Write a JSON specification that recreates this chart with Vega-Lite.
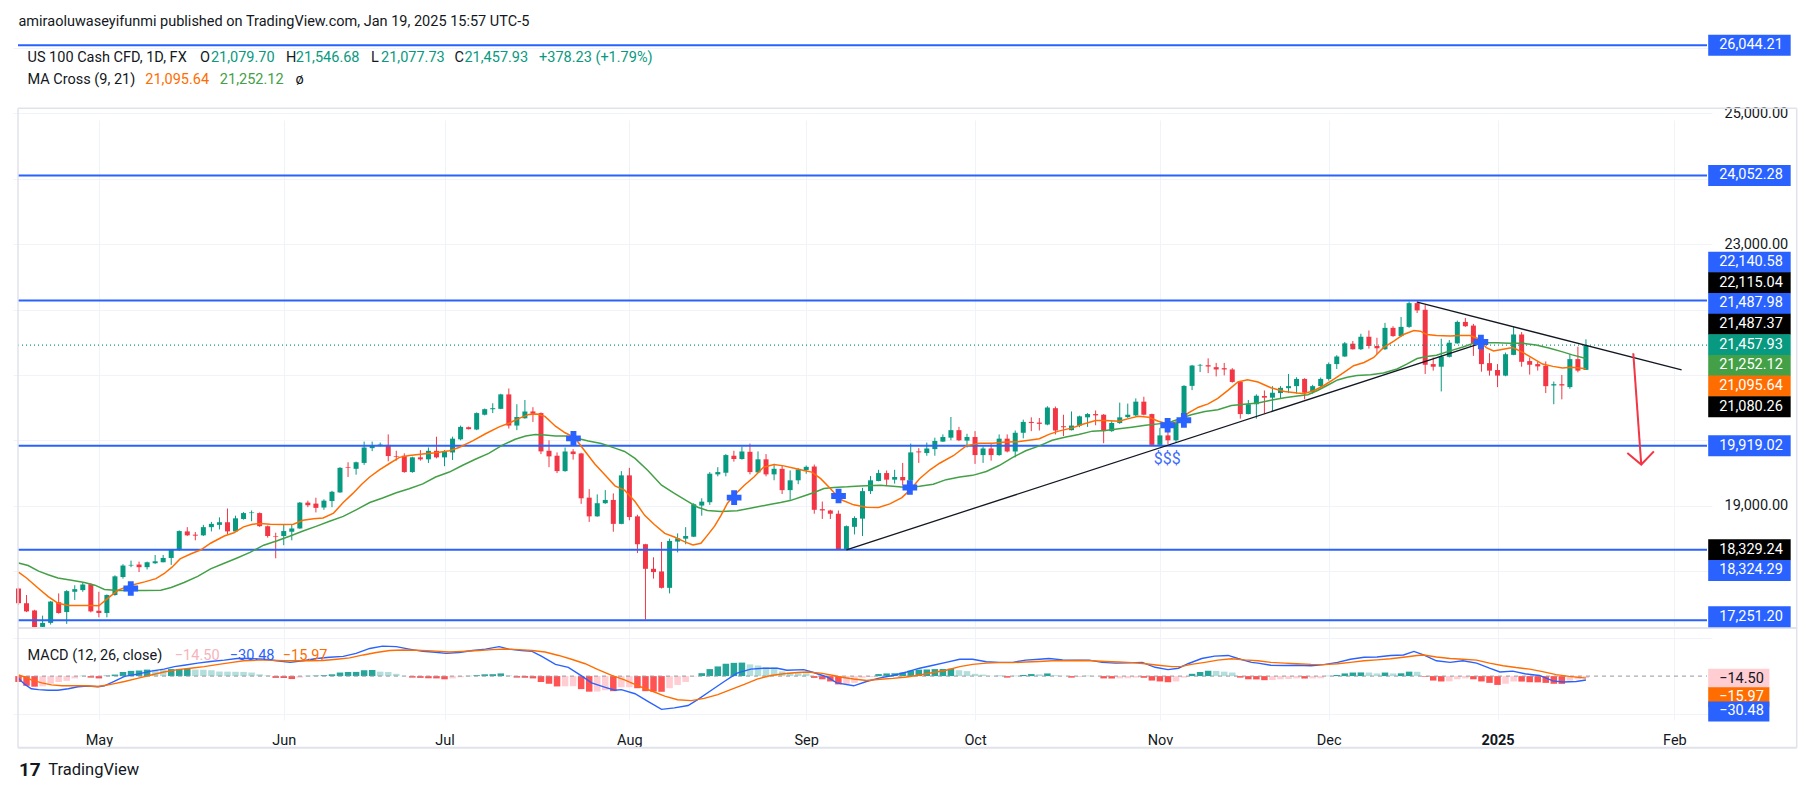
{
"$schema":"https://vega.github.io/schema/vega-lite/v6.json",
"width":1699,"height":687,
"autosize":{"type":"none"},
"padding":{"left":13,"top":33,"right":103,"bottom":82},
"background":"#ffffff",
"config":{"view":{"stroke":null},"text":{"font":"Roboto"}},
"datasets":{
"k":[
{"i":-10,"o":17737,"h":17747,"l":17487,"c":17512},{"i":-9,"o":17512,"h":17637,"l":17377,"c":17387},{"i":-8,"o":17401,"h":17412,"l":17134,"c":17140},{"i":-7,"o":17150,"h":17322,"l":17134,"c":17211},{"i":-6,"o":17211,"h":17547,"l":17186,"c":17537},{"i":-5,"o":17527,"h":17662,"l":17352,"c":17362},{"i":-4,"o":17377,"h":17712,"l":17196,"c":17697},{"i":-3,"o":17687,"h":17787,"l":17562,"c":17727},{"i":-2,"o":17712,"h":17828,"l":17687,"c":17798},{"i":-1,"o":17803,"h":17818,"l":17372,"c":17387},
{"i":0,"o":17397,"h":17687,"l":17296,"c":17362},{"i":1,"o":17362,"h":17647,"l":17296,"c":17637},{"i":2,"o":17637,"h":17938,"l":17627,"c":17923},{"i":3,"o":17913,"h":18108,"l":17888,"c":18088},{"i":4,"o":18088,"h":18163,"l":18063,"c":18098},{"i":5,"o":18103,"h":18148,"l":17988,"c":18063},{"i":6,"o":18063,"h":18148,"l":18028,"c":18138},{"i":7,"o":18123,"h":18249,"l":18113,"c":18153},{"i":8,"o":18138,"h":18249,"l":18138,"c":18204},{"i":9,"o":18204,"h":18339,"l":18098,"c":18329},
{"i":10,"o":18329,"h":18625,"l":18314,"c":18615},{"i":11,"o":18610,"h":18675,"l":18540,"c":18550},{"i":12,"o":18560,"h":18600,"l":18474,"c":18545},{"i":13,"o":18550,"h":18710,"l":18540,"c":18675},{"i":14,"o":18675,"h":18755,"l":18610,"c":18725},{"i":15,"o":18710,"h":18825,"l":18640,"c":18750},{"i":16,"o":18750,"h":18960,"l":18565,"c":18610},{"i":17,"o":18610,"h":18850,"l":18600,"c":18810},{"i":18,"o":18800,"h":18905,"l":18790,"c":18890},{"i":19,"o":18890,"h":18930,"l":18765,"c":18900},
{"i":20,"o":18890,"h":18900,"l":18680,"c":18690},{"i":21,"o":18690,"h":18700,"l":18515,"c":18540},{"i":22,"o":18540,"h":18590,"l":18199,"c":18530},{"i":23,"o":18540,"h":18715,"l":18399,"c":18615},{"i":24,"o":18605,"h":18715,"l":18474,"c":18655},{"i":25,"o":18655,"h":19060,"l":18650,"c":19050},{"i":26,"o":19050,"h":19080,"l":18980,"c":19010},{"i":27,"o":19035,"h":19125,"l":18900,"c":18970},{"i":28,"o":18975,"h":19100,"l":18940,"c":19080},{"i":29,"o":19075,"h":19231,"l":18980,"c":19216},
{"i":30,"o":19206,"h":19592,"l":19201,"c":19582},{"i":31,"o":19592,"h":19667,"l":19442,"c":19582},{"i":32,"o":19567,"h":19677,"l":19477,"c":19667},{"i":33,"o":19657,"h":19983,"l":19627,"c":19893},{"i":34,"o":19883,"h":19983,"l":19838,"c":19928},{"i":35,"o":19928,"h":19968,"l":19908,"c":19938},{"i":36,"o":19933,"h":20093,"l":19682,"c":19762},{"i":37,"o":19762,"h":19843,"l":19692,"c":19752},{"i":38,"o":19767,"h":19803,"l":19507,"c":19517},{"i":39,"o":19517,"h":19752,"l":19507,"c":19742},
{"i":40,"o":19742,"h":19853,"l":19692,"c":19712},{"i":41,"o":19712,"h":19893,"l":19657,"c":19842},{"i":42,"o":19842,"h":20058,"l":19727,"c":19742},{"i":43,"o":19742,"h":19853,"l":19607,"c":19832},{"i":44,"o":19817,"h":20058,"l":19702,"c":20028},{"i":45,"o":20018,"h":20228,"l":20003,"c":20208},{"i":46,"o":20203,"h":20213,"l":20168,"c":20173},{"i":47,"o":20168,"h":20429,"l":20158,"c":20419},{"i":48,"o":20394,"h":20489,"l":20384,"c":20479},{"i":49,"o":20478,"h":20569,"l":20419,"c":20494},
{"i":50,"o":20484,"h":20715,"l":20479,"c":20705},{"i":51,"o":20705,"h":20795,"l":20183,"c":20228},{"i":52,"o":20228,"h":20554,"l":20158,"c":20359},{"i":53,"o":20339,"h":20619,"l":20334,"c":20444},{"i":54,"o":20444,"h":20509,"l":20284,"c":20409},{"i":55,"o":20419,"h":20429,"l":19792,"c":19833},{"i":56,"o":19843,"h":20003,"l":19592,"c":19757},{"i":57,"o":19767,"h":19818,"l":19502,"c":19532},{"i":58,"o":19532,"h":19893,"l":19522,"c":19832},{"i":59,"o":19832,"h":19868,"l":19707,"c":19792},
{"i":60,"o":19802,"h":19812,"l":19031,"c":19116},{"i":61,"o":19126,"h":19256,"l":18755,"c":18840},{"i":62,"o":18840,"h":19176,"l":18835,"c":19041},{"i":63,"o":19041,"h":19241,"l":19031,"c":19091},{"i":64,"o":19091,"h":19191,"l":18605,"c":18725},{"i":65,"o":18725,"h":19532,"l":18720,"c":19467},{"i":66,"o":19467,"h":19582,"l":18780,"c":18830},{"i":67,"o":18840,"h":18865,"l":18279,"c":18414},{"i":68,"o":18414,"h":18420,"l":17261,"c":18038},{"i":69,"o":18038,"h":18214,"l":17888,"c":17988},
{"i":70,"o":17998,"h":18449,"l":17737,"c":17747},{"i":71,"o":17747,"h":18499,"l":17662,"c":18464},{"i":72,"o":18454,"h":18579,"l":18289,"c":18504},{"i":73,"o":18499,"h":18675,"l":18414,"c":18539},{"i":74,"o":18529,"h":19041,"l":18524,"c":19025},{"i":75,"o":19005,"h":19116,"l":18850,"c":19065},{"i":76,"o":19056,"h":19517,"l":19016,"c":19492},{"i":77,"o":19482,"h":19592,"l":19452,"c":19517},{"i":78,"o":19507,"h":19792,"l":19452,"c":19777},{"i":79,"o":19767,"h":19843,"l":19677,"c":19717},
{"i":80,"o":19717,"h":19903,"l":19707,"c":19832},{"i":81,"o":19827,"h":19953,"l":19482,"c":19517},{"i":82,"o":19512,"h":19833,"l":19507,"c":19712},{"i":83,"o":19712,"h":19792,"l":19452,"c":19482},{"i":84,"o":19482,"h":19642,"l":19392,"c":19567},{"i":85,"o":19567,"h":19617,"l":19181,"c":19241},{"i":86,"o":19241,"h":19542,"l":19091,"c":19391},{"i":87,"o":19391,"h":19577,"l":19332,"c":19557},{"i":88,"o":19547,"h":19617,"l":19492,"c":19597},{"i":89,"o":19602,"h":19632,"l":18880,"c":18940},
{"i":90,"o":18950,"h":19066,"l":18800,"c":18930},{"i":91,"o":18930,"h":18940,"l":18800,"c":18880},{"i":92,"o":18880,"h":18930,"l":18329,"c":18335},{"i":93,"o":18329,"h":18700,"l":18325,"c":18690},{"i":94,"o":18680,"h":18840,"l":18564,"c":18815},{"i":95,"o":18805,"h":19276,"l":18539,"c":19226},{"i":96,"o":19226,"h":19457,"l":19181,"c":19391},{"i":97,"o":19381,"h":19552,"l":19376,"c":19502},{"i":98,"o":19502,"h":19542,"l":19301,"c":19401},{"i":99,"o":19401,"h":19552,"l":19341,"c":19442},
{"i":100,"o":19442,"h":19657,"l":19316,"c":19391},{"i":101,"o":19391,"h":19953,"l":19181,"c":19818},{"i":102,"o":19833,"h":19883,"l":19657,"c":19818},{"i":103,"o":19808,"h":19968,"l":19767,"c":19878},{"i":104,"o":19868,"h":20043,"l":19767,"c":19993},{"i":105,"o":19983,"h":20093,"l":19978,"c":20053},{"i":106,"o":20043,"h":20359,"l":20003,"c":20158},{"i":107,"o":20158,"h":20208,"l":19993,"c":20003},{"i":108,"o":19998,"h":20103,"l":19893,"c":20053},{"i":109,"o":20053,"h":20143,"l":19642,"c":19777},
{"i":110,"o":19777,"h":19908,"l":19657,"c":19878},{"i":111,"o":19878,"h":19943,"l":19692,"c":19777},{"i":112,"o":19777,"h":20093,"l":19767,"c":20028},{"i":113,"o":20028,"h":20093,"l":19818,"c":19832},{"i":114,"o":19832,"h":20153,"l":19742,"c":20118},{"i":115,"o":20118,"h":20319,"l":20033,"c":20284},{"i":116,"o":20284,"h":20354,"l":20143,"c":20268},{"i":117,"o":20274,"h":20344,"l":20153,"c":20254},{"i":118,"o":20244,"h":20524,"l":20233,"c":20504},{"i":119,"o":20494,"h":20519,"l":20093,"c":20153},
{"i":120,"o":20218,"h":20394,"l":20068,"c":20203},{"i":121,"o":20158,"h":20444,"l":20153,"c":20228},{"i":122,"o":20228,"h":20379,"l":20203,"c":20369},{"i":123,"o":20354,"h":20419,"l":20208,"c":20404},{"i":124,"o":20404,"h":20459,"l":20233,"c":20384},{"i":125,"o":20394,"h":20404,"l":19958,"c":20143},{"i":126,"o":20143,"h":20294,"l":20133,"c":20268},{"i":127,"o":20268,"h":20579,"l":20254,"c":20354},{"i":128,"o":20358,"h":20564,"l":20344,"c":20394},{"i":129,"o":20384,"h":20644,"l":20369,"c":20594},
{"i":130,"o":20594,"h":20669,"l":20384,"c":20394},{"i":131,"o":20404,"h":20410,"l":19928,"c":19933},{"i":132,"o":19933,"h":20193,"l":19928,"c":20078},{"i":133,"o":20078,"h":20269,"l":19943,"c":20003},{"i":134,"o":20003,"h":20304,"l":19978,"c":20279},{"i":135,"o":20284,"h":20845,"l":20233,"c":20835},{"i":136,"o":20835,"h":21156,"l":20770,"c":21146},{"i":137,"o":21146,"h":21171,"l":21046,"c":21156},{"i":138,"o":21151,"h":21256,"l":21030,"c":21131},{"i":139,"o":21121,"h":21186,"l":20980,"c":21086},
{"i":140,"o":21106,"h":21186,"l":20995,"c":21086},{"i":141,"o":21086,"h":21106,"l":20885,"c":20895},{"i":142,"o":20895,"h":20905,"l":20334,"c":20404},{"i":143,"o":20404,"h":20619,"l":20400,"c":20554},{"i":144,"o":20554,"h":20705,"l":20334,"c":20684},{"i":145,"o":20680,"h":20765,"l":20413,"c":20655},{"i":146,"o":20655,"h":20831,"l":20453,"c":20730},{"i":147,"o":20725,"h":20831,"l":20640,"c":20805},{"i":148,"o":20800,"h":21017,"l":20725,"c":20831},{"i":149,"o":20831,"h":20967,"l":20715,"c":20941},
{"i":150,"o":20941,"h":20952,"l":20629,"c":20730},{"i":151,"o":20740,"h":20851,"l":20715,"c":20831},{"i":152,"o":20831,"h":20962,"l":20816,"c":20941},{"i":153,"o":20941,"h":21193,"l":20916,"c":21168},{"i":154,"o":21168,"h":21304,"l":21093,"c":21284},{"i":155,"o":21284,"h":21506,"l":21279,"c":21485},{"i":156,"o":21480,"h":21521,"l":21390,"c":21395},{"i":157,"o":21395,"h":21632,"l":21385,"c":21586},{"i":158,"o":21586,"h":21682,"l":21405,"c":21445},{"i":159,"o":21445,"h":21571,"l":21319,"c":21410},
{"i":160,"o":21395,"h":21798,"l":21385,"c":21722},{"i":161,"o":21722,"h":21747,"l":21586,"c":21596},{"i":162,"o":21596,"h":21888,"l":21586,"c":21737},{"i":163,"o":21737,"h":22125,"l":21722,"c":22100},{"i":164,"o":22100,"h":22125,"l":21949,"c":21989},{"i":165,"o":21999,"h":22070,"l":21017,"c":21158},{"i":166,"o":21168,"h":21269,"l":21068,"c":21128},{"i":167,"o":21128,"h":21556,"l":20750,"c":21284},{"i":168,"o":21279,"h":21536,"l":21269,"c":21495},{"i":169,"o":21485,"h":21833,"l":21480,"c":21813},
{"i":170,"o":21813,"h":21873,"l":21737,"c":21747},{"i":171,"o":21757,"h":21783,"l":21294,"c":21485},{"i":172,"o":21520,"h":21546,"l":21052,"c":21168},{"i":173,"o":21183,"h":21334,"l":20992,"c":21068},{"i":174,"o":21078,"h":21168,"l":20816,"c":20992},{"i":175,"o":20992,"h":21344,"l":20982,"c":21319},{"i":176,"o":21309,"h":21737,"l":21304,"c":21621},{"i":177,"o":21621,"h":21657,"l":21128,"c":21203},{"i":178,"o":21214,"h":21269,"l":21007,"c":21158},{"i":179,"o":21168,"h":21203,"l":21068,"c":21133},
{"i":180,"o":21143,"h":21209,"l":20725,"c":20831},{"i":181,"o":20841,"h":20901,"l":20554,"c":20861},{"i":182,"o":20861,"h":21002,"l":20629,"c":20841},{"i":183,"o":20816,"h":21319,"l":20791,"c":21244},{"i":184,"o":21244,"h":21435,"l":21042,"c":21068},{"i":185,"o":21079.7,"h":21546.68,"l":21077.73,"c":21457.93}
],
"m9":[
{"i":-10,"p":17988},{"i":-9,"p":17898},{"i":-7.5,"p":17737},{"i":-6.3,"p":17612},{"i":-5.1,"p":17512},{"i":-3.8,"p":17477},{"i":-2.2,"p":17477},{"i":-0.9,"p":17477},{"i":0,"p":17472},{"i":1.1,"p":17587},{"i":2.4,"p":17712},{"i":4,"p":17788},{"i":5.7,"p":17838},{"i":7.1,"p":17888},{"i":8.1,"p":17963},{"i":9.1,"p":18063},{"i":10.1,"p":18189},{"i":11.4,"p":18264},{"i":12.7,"p":18329},{"i":13.9,"p":18429},{"i":15.6,"p":18539},{"i":16.8,"p":18590},{"i":18,"p":18680},{"i":19.1,"p":18720},{"i":20.1,"p":18730},{"i":21.3,"p":18720},{"i":23,"p":18715},{"i":24.2,"p":18720},{"i":25.4,"p":18780},{"i":26.7,"p":18805},{"i":27.9,"p":18815},{"i":29.2,"p":18890},{"i":30.4,"p":19051},{"i":31.6,"p":19191},{"i":32.7,"p":19331},{"i":33.7,"p":19442},{"i":34.9,"p":19552},{"i":36.2,"p":19652},{"i":37.4,"p":19742},{"i":38.6,"p":19772},{"i":40.3,"p":19792},{"i":41.9,"p":19812},{"i":43.6,"p":19843},{"i":44.8,"p":19893},{"i":46.5,"p":19993},{"i":48.1,"p":20103},{"i":49.8,"p":20208},{"i":51,"p":20264},{"i":52.2,"p":20334},{"i":53.5,"p":20399},{"i":54.5,"p":20404},{"i":55.5,"p":20369},{"i":56.8,"p":20218},{"i":58,"p":20118},{"i":59.2,"p":20043},{"i":60.5,"p":19832},{"i":61.7,"p":19642},{"i":63,"p":19467},{"i":64.2,"p":19306},{"i":65.4,"p":19241},{"i":66.7,"p":19066},{"i":67.9,"p":18855},{"i":69.1,"p":18715},{"i":70.4,"p":18579},{"i":71.6,"p":18524},{"i":72.9,"p":18449},{"i":73.9,"p":18404},{"i":74.9,"p":18429},{"i":75.7,"p":18549},{"i":76.6,"p":18690},{"i":77.4,"p":18855},{"i":78.2,"p":19041},{"i":79.2,"p":19181},{"i":80.3,"p":19316},{"i":81.5,"p":19442},{"i":82.7,"p":19592},{"i":84,"p":19632},{"i":85.2,"p":19612},{"i":86.5,"p":19577},{"i":87.7,"p":19542},{"i":88.7,"p":19517},{"i":89.8,"p":19416},{"i":91,"p":19266},{"i":92.2,"p":19101},{"i":93.9,"p":19016},{"i":95.5,"p":18980},{"i":97,"p":18975},{"i":98.4,"p":19031},{"i":99.9,"p":19126},{"i":100.9,"p":19241},{"i":102.1,"p":19416},{"i":103.4,"p":19552},{"i":104.6,"p":19652},{"i":106.3,"p":19767},{"i":107.9,"p":19918},{"i":109.5,"p":19958},{"i":111.2,"p":19958},{"i":112.8,"p":19978},{"i":114.5,"p":19983},{"i":115.7,"p":20003},{"i":117,"p":20028},{"i":118.2,"p":20093},{"i":119.4,"p":20143},{"i":121.1,"p":20193},{"i":122.3,"p":20244},{"i":124,"p":20304},{"i":125.2,"p":20304},{"i":126.9,"p":20294},{"i":128.1,"p":20334},{"i":129.3,"p":20369},{"i":130.6,"p":20354},{"i":131.8,"p":20294},{"i":133,"p":20254},{"i":134.3,"p":20284},{"i":135.5,"p":20419},{"i":136.8,"p":20509},{"i":138,"p":20559},{"i":139.2,"p":20644},{"i":140.5,"p":20770},{"i":141.7,"p":20895},{"i":142.9,"p":20930},{"i":144.2,"p":20893},{"i":145.8,"p":20806},{"i":147.5,"p":20750},{"i":149.1,"p":20725},{"i":149.9,"p":20715},{"i":151.2,"p":20765},{"i":152.4,"p":20841},{"i":153.7,"p":20941},{"i":154.9,"p":21042},{"i":156.1,"p":21143},{"i":157.4,"p":21193},{"i":158.6,"p":21269},{"i":159.8,"p":21420},{"i":161.1,"p":21521},{"i":162.3,"p":21621},{"i":163.6,"p":21682},{"i":164.4,"p":21672},{"i":165.2,"p":21621},{"i":166.4,"p":21606},{"i":168.1,"p":21596},{"i":169.3,"p":21606},{"i":170.6,"p":21606},{"i":171.6,"p":21556},{"i":172.6,"p":21420},{"i":173.5,"p":21370},{"i":174.7,"p":21395},{"i":175.9,"p":21420},{"i":177.2,"p":21344},{"i":178.4,"p":21254},{"i":179.6,"p":21168},{"i":180.9,"p":21133},{"i":182.1,"p":21108},{"i":183.1,"p":21118},{"i":184.2,"p":21108},{"i":185,"p":21095.64}
],
"m21":[
{"i":-10,"p":18128},{"i":-8.8,"p":18088},{"i":-7.5,"p":18003},{"i":-6.3,"p":17948},{"i":-5.1,"p":17898},{"i":-3.4,"p":17863},{"i":-1.8,"p":17828},{"i":-0.5,"p":17788},{"i":0.7,"p":17722},{"i":2.4,"p":17707},{"i":4,"p":17707},{"i":5.7,"p":17707},{"i":7.7,"p":17712},{"i":9,"p":17752},{"i":10.6,"p":17828},{"i":12.3,"p":17923},{"i":13.9,"p":18038},{"i":15.6,"p":18123},{"i":17.2,"p":18204},{"i":18.8,"p":18289},{"i":20.5,"p":18399},{"i":22.1,"p":18464},{"i":23.8,"p":18539},{"i":25.4,"p":18615},{"i":27.1,"p":18690},{"i":28.7,"p":18765},{"i":30.4,"p":18840},{"i":32,"p":18940},{"i":33.7,"p":19051},{"i":35.3,"p":19121},{"i":37,"p":19201},{"i":38.6,"p":19261},{"i":40.3,"p":19336},{"i":41.9,"p":19442},{"i":43.6,"p":19517},{"i":45.2,"p":19617},{"i":46.9,"p":19717},{"i":48.5,"p":19802},{"i":50.2,"p":19930},{"i":51.8,"p":20018},{"i":53.1,"p":20068},{"i":54.3,"p":20093},{"i":55.5,"p":20083},{"i":56.8,"p":20068},{"i":58,"p":20068},{"i":59.2,"p":20043},{"i":60.9,"p":19993},{"i":62.5,"p":19953},{"i":64.2,"p":19883},{"i":65.4,"p":19832},{"i":66.7,"p":19727},{"i":68.3,"p":19542},{"i":70,"p":19316},{"i":71.6,"p":19191},{"i":73.3,"p":19066},{"i":74.5,"p":18980},{"i":75.7,"p":18930},{"i":77.4,"p":18915},{"i":79.4,"p":18925},{"i":81.5,"p":18975},{"i":83.6,"p":19026},{"i":84.8,"p":19051},{"i":86,"p":19081},{"i":87.7,"p":19151},{"i":88.9,"p":19201},{"i":90.2,"p":19266},{"i":91.4,"p":19281},{"i":93.1,"p":19291},{"i":94.7,"p":19306},{"i":97.2,"p":19316},{"i":98.8,"p":19301},{"i":100.5,"p":19281},{"i":102.1,"p":19301},{"i":103.8,"p":19331},{"i":105.4,"p":19401},{"i":107.1,"p":19442},{"i":108.7,"p":19467},{"i":110.4,"p":19527},{"i":112,"p":19617},{"i":113.7,"p":19742},{"i":115.3,"p":19843},{"i":117,"p":19918},{"i":118.6,"p":20003},{"i":120.3,"p":20053},{"i":121.9,"p":20093},{"i":123.6,"p":20143},{"i":125.2,"p":20153},{"i":126.9,"p":20178},{"i":128.5,"p":20203},{"i":130.2,"p":20233},{"i":131.8,"p":20254},{"i":133,"p":20269},{"i":134.7,"p":20344},{"i":135.9,"p":20394},{"i":137.6,"p":20444},{"i":139.2,"p":20469},{"i":140.9,"p":20534},{"i":142.5,"p":20554},{"i":144.2,"p":20574},{"i":145.8,"p":20614},{"i":147.5,"p":20655},{"i":149.1,"p":20680},{"i":150.4,"p":20700},{"i":151.6,"p":20765},{"i":152.8,"p":20841},{"i":154.1,"p":20926},{"i":155.3,"p":20967},{"i":156.5,"p":20992},{"i":158.2,"p":21007},{"i":159.8,"p":21032},{"i":161.5,"p":21093},{"i":162.7,"p":21168},{"i":164,"p":21254},{"i":165.2,"p":21284},{"i":166.4,"p":21304},{"i":168.1,"p":21370},{"i":169.7,"p":21430},{"i":171,"p":21485},{"i":172.2,"p":21495},{"i":173.9,"p":21495},{"i":175.5,"p":21485},{"i":177.2,"p":21485},{"i":178.8,"p":21460},{"i":180.5,"p":21410},{"i":182.1,"p":21355},{"i":183.3,"p":21309},{"i":185,"p":21252.12}
],
"lv":[{"p":26044.21},{"p":24052.28},{"p":22140.58},{"p":19919.02},{"p":18329.24},{"p":17251.2}],
"tr":[{"g":"a","i":93,"p":18329.24},{"g":"a","i":172,"p":21487.37},{"g":"d","i":164,"p":22115.04},{"g":"d","i":196.9,"p":21080.26}],
"ar":[{"g":"s","i":190.89,"p":21334},{"g":"s","i":191.88,"p":19632},{"g":"h","i":190.15,"p":19808},{"g":"h","i":191.88,"p":19632},{"g":"h","i":193.45,"p":19834}],
"cx":[{"i":3.97,"p":17737},{"i":59.04,"p":20033},{"i":79.03,"p":19126},{"i":92.02,"p":19151},{"i":100.89,"p":19281},{"i":132.96,"p":20233},{"i":134.98,"p":20309},{"i":171.93,"p":21506}],
"tg":[{"t":"26,044.21","at":26044.21,"k":"b"},{"t":"24,052.28","at":24052.28,"k":"b"},{"t":"22,140.58","at":22726,"k":"b"},{"t":"22,115.04","at":22410,"k":"k"},{"t":"21,487.98","at":22095,"k":"b"},{"t":"21,487.37","at":21779,"k":"k"},{"t":"21,457.93","at":21463,"k":"t"},{"t":"21,252.12","at":21147,"k":"g"},{"t":"21,095.64","at":20832,"k":"o"},{"t":"21,080.26","at":20516,"k":"k"},{"t":"19,919.02","at":19919.02,"k":"b"},{"t":"18,329.24","at":18329.24,"k":"k"},{"t":"18,324.29","at":18013,"k":"b"},{"t":"17,251.20","at":17306,"k":"b"}],
"mtg":[{"t":"−14.50","at":-21,"k":"p"},{"t":"−15.97","at":-166,"k":"o"},{"t":"−30.48","at":-277,"k":"b"}],
"hs":[
{"i":-10,"h":-46},{"i":-9,"h":-76},{"i":-8,"h":-83},{"i":-7,"h":-80},{"i":-6,"h":-60},{"i":-5,"h":-46},{"i":-4,"h":-37},{"i":-3,"h":-18},{"i":-2,"h":2},{"i":-1,"h":-12},{"i":0,"h":-18},{"i":1,"h":4},{"i":2,"h":12},{"i":3,"h":32},{"i":4,"h":41},{"i":5,"h":44},{"i":6,"h":51},{"i":7,"h":50},{"i":8,"h":49},{"i":9,"h":55},{"i":10,"h":56},{"i":11,"h":57},{"i":12,"h":51},{"i":13,"h":50},{"i":14,"h":46},{"i":15,"h":36},{"i":16,"h":35},{"i":17,"h":34},{"i":18,"h":33},{"i":19,"h":28},{"i":20,"h":14},{"i":21,"h":5},{"i":22,"h":-14},{"i":23,"h":-15},{"i":24,"h":-23},{"i":25,"h":-12},{"i":26,"h":2},{"i":27,"h":4},{"i":28,"h":7},{"i":29,"h":14},{"i":30,"h":28},{"i":31,"h":32},{"i":32,"h":33},{"i":33,"h":46},{"i":34,"h":48},{"i":35,"h":35},{"i":36,"h":32},{"i":37,"h":18},{"i":38,"h":2},{"i":39,"h":-12},{"i":40,"h":-14},{"i":41,"h":-17},{"i":42,"h":-18},{"i":43,"h":-25},{"i":44,"h":-18},{"i":45,"h":-9},{"i":46,"h":2},{"i":47,"h":7},{"i":48,"h":14},{"i":49,"h":15},{"i":50,"h":21},{"i":51,"h":5},{"i":52,"h":-12},{"i":53,"h":-13},{"i":54,"h":-18},{"i":55,"h":-46},{"i":56,"h":-60},{"i":57,"h":-81},{"i":58,"h":-80},{"i":59,"h":-79},{"i":60,"h":-102},{"i":61,"h":-122},{"i":62,"h":-121},{"i":63,"h":-111},{"i":64,"h":-118},{"i":65,"h":-88},{"i":66,"h":-87},{"i":67,"h":-95},{"i":68,"h":-118},{"i":69,"h":-122},{"i":70,"h":-123},{"i":71,"h":-95},{"i":72,"h":-69},{"i":73,"h":-46},{"i":74,"h":-3},{"i":75,"h":23},{"i":76,"h":55},{"i":77,"h":76},{"i":78,"h":97},{"i":79,"h":104},{"i":80,"h":106},{"i":81,"h":92},{"i":82,"h":83},{"i":83,"h":69},{"i":84,"h":68},{"i":85,"h":37},{"i":86,"h":28},{"i":87,"h":23},{"i":88,"h":22},{"i":89,"h":-14},{"i":90,"h":-25},{"i":91,"h":-42},{"i":92,"h":-65},{"i":93,"h":-64},{"i":94,"h":-53},{"i":95,"h":-14},{"i":96,"h":-7},{"i":97,"h":16},{"i":98,"h":21},{"i":99,"h":22},{"i":100,"h":28},{"i":101,"h":42},{"i":102,"h":51},{"i":103,"h":52},{"i":104,"h":55},{"i":105,"h":56},{"i":106,"h":58},{"i":107,"h":46},{"i":108,"h":39},{"i":109,"h":18},{"i":110,"h":12},{"i":111,"h":2},{"i":112,"h":3},{"i":113,"h":-12},{"i":114,"h":2},{"i":115,"h":9},{"i":116,"h":16},{"i":117,"h":14},{"i":118,"h":21},{"i":119,"h":7},{"i":120,"h":2},{"i":121,"h":-12},{"i":122,"h":-7},{"i":123,"h":2},{"i":124,"h":1},{"i":125,"h":-18},{"i":126,"h":-19},{"i":127,"h":-18},{"i":128,"h":-17},{"i":129,"h":-12},{"i":130,"h":-13},{"i":131,"h":-35},{"i":132,"h":-42},{"i":133,"h":-48},{"i":134,"h":-42},{"i":135,"h":-12},{"i":136,"h":18},{"i":137,"h":32},{"i":138,"h":42},{"i":139,"h":41},{"i":140,"h":35},{"i":141,"h":28},{"i":142,"h":-12},{"i":143,"h":-25},{"i":144,"h":-26},{"i":145,"h":-32},{"i":146,"h":-31},{"i":147,"h":-25},{"i":148,"h":-23},{"i":149,"h":-18},{"i":150,"h":-19},{"i":151,"h":-18},{"i":152,"h":-17},{"i":153,"h":2},{"i":154,"h":9},{"i":155,"h":21},{"i":156,"h":28},{"i":157,"h":29},{"i":158,"h":28},{"i":159,"h":21},{"i":160,"h":28},{"i":161,"h":21},{"i":162,"h":22},{"i":163,"h":35},{"i":164,"h":34},{"i":165,"h":-5},{"i":166,"h":-35},{"i":167,"h":-42},{"i":168,"h":-41},{"i":169,"h":-25},{"i":170,"h":-18},{"i":171,"h":-25},{"i":172,"h":-42},{"i":173,"h":-53},{"i":174,"h":-69},{"i":175,"h":-60},{"i":176,"h":-42},{"i":177,"h":-43},{"i":178,"h":-48},{"i":179,"h":-49},{"i":180,"h":-53},{"i":181,"h":-60},{"i":182,"h":-61},{"i":183,"h":-35},{"i":184,"h":-25},{"i":185,"h":-14.5}
],
"md":[
{"i":-10,"v":-18},{"i":-9.2,"v":-65},{"i":-8.4,"v":-99},{"i":-7.5,"v":-106},{"i":-6.3,"v":-111},{"i":-5.1,"v":-111},{"i":-3.8,"v":-99},{"i":-2.6,"v":-83},{"i":-1.4,"v":-78},{"i":-0.1,"v":-83},{"i":0.7,"v":-76},{"i":1.9,"v":-42},{"i":3.2,"v":-2},{"i":4.8,"v":16},{"i":6.5,"v":39},{"i":8.1,"v":55},{"i":9.4,"v":74},{"i":10.6,"v":85},{"i":12.3,"v":102},{"i":13.9,"v":115},{"i":15.6,"v":125},{"i":17.2,"v":138},{"i":18.8,"v":138},{"i":20.5,"v":132},{"i":22.1,"v":120},{"i":23.8,"v":108},{"i":25.4,"v":120},{"i":27.1,"v":138},{"i":28.7,"v":148},{"i":30.4,"v":155},{"i":32,"v":178},{"i":33.7,"v":217},{"i":35.3,"v":235},{"i":37,"v":231},{"i":38.6,"v":212},{"i":40.3,"v":194},{"i":41.5,"v":189},{"i":43.2,"v":178},{"i":44.8,"v":185},{"i":46.5,"v":201},{"i":48.1,"v":212},{"i":49.8,"v":231},{"i":51,"v":212},{"i":52.6,"v":201},{"i":53.9,"v":194},{"i":55.1,"v":155},{"i":56.8,"v":92},{"i":58.4,"v":69},{"i":60.1,"v":0},{"i":61.3,"v":-53},{"i":63,"v":-88},{"i":64.2,"v":-111},{"i":65,"v":-106},{"i":66.7,"v":-138},{"i":68.3,"v":-198},{"i":70,"v":-261},{"i":71.6,"v":-249},{"i":73.3,"v":-231},{"i":74.5,"v":-185},{"i":76.2,"v":-111},{"i":77.8,"v":-42},{"i":79.4,"v":23},{"i":81.1,"v":55},{"i":82.7,"v":62},{"i":84.4,"v":62},{"i":85.6,"v":46},{"i":87.7,"v":51},{"i":88.9,"v":28},{"i":90.6,"v":-7},{"i":91.8,"v":-53},{"i":93.9,"v":-76},{"i":95.5,"v":-42},{"i":97.2,"v":-14},{"i":98.8,"v":5},{"i":100.5,"v":32},{"i":102.1,"v":62},{"i":103.8,"v":85},{"i":105.4,"v":108},{"i":107.1,"v":132},{"i":108.7,"v":132},{"i":110.4,"v":113},{"i":112,"v":108},{"i":113.7,"v":108},{"i":115.3,"v":125},{"i":117,"v":132},{"i":118.2,"v":138},{"i":119.9,"v":127},{"i":121.5,"v":125},{"i":123.2,"v":125},{"i":124.8,"v":108},{"i":126.5,"v":102},{"i":128.1,"v":104},{"i":129.8,"v":108},{"i":131.4,"v":69},{"i":133,"v":51},{"i":134.3,"v":62},{"i":135.5,"v":97},{"i":137.2,"v":138},{"i":138.8,"v":157},{"i":140.5,"v":162},{"i":141.7,"v":138},{"i":143.4,"v":108},{"i":144.2,"v":102},{"i":145.8,"v":85},{"i":147.5,"v":83},{"i":149.1,"v":85},{"i":150.8,"v":81},{"i":152.4,"v":90},{"i":154.1,"v":108},{"i":155.7,"v":132},{"i":157.4,"v":148},{"i":159,"v":150},{"i":160.7,"v":162},{"i":162.3,"v":166},{"i":163.6,"v":194},{"i":164.8,"v":166},{"i":166.4,"v":120},{"i":168.1,"v":108},{"i":169.7,"v":120},{"i":171.4,"v":102},{"i":173,"v":62},{"i":174.3,"v":32},{"i":175.9,"v":39},{"i":177.6,"v":16},{"i":179.2,"v":5},{"i":180.9,"v":-37},{"i":182.1,"v":-46},{"i":183.8,"v":-42},{"i":185,"v":-30.48}
],
"sg":[
{"i":-10,"v":9},{"i":-9.2,"v":-7},{"i":-8.4,"v":-30},{"i":-7.1,"v":-53},{"i":-5.9,"v":-69},{"i":-4.6,"v":-76},{"i":-3.4,"v":-76},{"i":-1.8,"v":-76},{"i":-0.1,"v":-81},{"i":1.5,"v":-65},{"i":3.2,"v":-42},{"i":4.8,"v":-18},{"i":6.5,"v":9},{"i":8.1,"v":32},{"i":9.8,"v":51},{"i":11.4,"v":62},{"i":13.1,"v":74},{"i":14.7,"v":90},{"i":16.4,"v":106},{"i":18,"v":120},{"i":19.7,"v":125},{"i":21.3,"v":125},{"i":23,"v":120},{"i":24.6,"v":120},{"i":26.3,"v":120},{"i":27.9,"v":122},{"i":29.6,"v":132},{"i":31.2,"v":143},{"i":32.9,"v":166},{"i":34.5,"v":185},{"i":36.2,"v":201},{"i":37.8,"v":205},{"i":39.5,"v":203},{"i":41.4,"v":198},{"i":43.6,"v":189},{"i":45.2,"v":194},{"i":47.3,"v":201},{"i":48.9,"v":208},{"i":50.6,"v":212},{"i":52.2,"v":208},{"i":53.9,"v":201},{"i":55.5,"v":189},{"i":57.2,"v":162},{"i":58.8,"v":132},{"i":60.5,"v":97},{"i":62.1,"v":51},{"i":63.8,"v":5},{"i":65.4,"v":-30},{"i":67.1,"v":-76},{"i":68.7,"v":-115},{"i":70.4,"v":-157},{"i":72,"v":-185},{"i":73.7,"v":-192},{"i":75.3,"v":-175},{"i":77,"v":-145},{"i":78.6,"v":-106},{"i":80.3,"v":-65},{"i":81.9,"v":-23},{"i":83.6,"v":5},{"i":85.2,"v":18},{"i":86.9,"v":28},{"i":88.1,"v":32},{"i":89.8,"v":23},{"i":91.4,"v":5},{"i":92.2,"v":-7},{"i":93.9,"v":-23},{"i":95.5,"v":-35},{"i":97.2,"v":-25},{"i":98.8,"v":-18},{"i":100.5,"v":-7},{"i":102.1,"v":9},{"i":103.8,"v":28},{"i":105.4,"v":46},{"i":107.1,"v":74},{"i":108.7,"v":92},{"i":110.4,"v":102},{"i":112,"v":106},{"i":113.7,"v":106},{"i":115.3,"v":111},{"i":117,"v":115},{"i":118.6,"v":120},{"i":120.3,"v":120},{"i":121.9,"v":122},{"i":123.6,"v":120},{"i":125.2,"v":115},{"i":126.9,"v":111},{"i":128.5,"v":106},{"i":130.2,"v":97},{"i":131.8,"v":85},{"i":133.5,"v":74},{"i":134.7,"v":76},{"i":135.9,"v":92},{"i":137.6,"v":108},{"i":139.2,"v":125},{"i":140.9,"v":136},{"i":142.5,"v":127},{"i":144.2,"v":120},{"i":145.8,"v":108},{"i":147.5,"v":102},{"i":149.1,"v":97},{"i":150.8,"v":92},{"i":152.4,"v":90},{"i":154.1,"v":97},{"i":155.7,"v":108},{"i":157.4,"v":120},{"i":159,"v":127},{"i":160.7,"v":136},{"i":162.3,"v":148},{"i":164,"v":162},{"i":164.8,"v":166},{"i":166.4,"v":150},{"i":168.1,"v":138},{"i":169.7,"v":132},{"i":171.4,"v":125},{"i":173,"v":102},{"i":174.7,"v":81},{"i":176.3,"v":67},{"i":178,"v":55},{"i":179.6,"v":35},{"i":181.3,"v":12},{"i":182.9,"v":-2},{"i":185,"v":-15.97}
]
},
"data":{"values":[{"n":0}]},
"layer":[
{"layer":[
{"data":{"name":"k"},"mark":{"type":"rule","strokeWidth":1},"encoding":{"x":{"field":"i","type":"quantitative","scale":{"domain":[-10.06,200.06],"nice":false,"zero":false},
"axis":{"title":null,"values":[0,23,43,66,88,109,132,153,174,196],"labelExpr":"datum.value==0?'May':datum.value==23?'Jun':datum.value==43?'Jul':datum.value==66?'Aug':datum.value==88?'Sep':datum.value==109?'Oct':datum.value==132?'Nov':datum.value==153?'Dec':datum.value==174?'2025':'Feb'","grid":true,"gridColor":"#f0f3fa","gridWidth":1,"domain":false,"ticks":false,"tickSize":0,"labelPadding":13,"labelFlush":false,"labelOverlap":false,"labelFont":"Roboto","labelFontSize":14.5,"labelColor":"#131722","labelFontWeight":{"condition":{"test":"datum.value == 174","value":"bold"},"value":"normal"}}},
"y":{"field":"l","type":"quantitative","scale":{"domain":[17133,26154],"range":[600,0],"nice":false,"zero":false},"axis":{"title":null,"orient":"right","values":[18000,19000,20000,21000,22000,23000,24000,25000,26000],"format":",.2f","labelExpr":"(datum.value==19000||datum.value==23000||datum.value==25000) ? datum.label : ''","grid":true,"gridColor":"#f0f3fa","domain":false,"ticks":false,"tickSize":0,"labelPadding":12,"labelAlign":"left","labelBaseline":"middle","labelOverlap":false,"labelFont":"Roboto","labelFontSize":14.5,"labelColor":"#131722"}},"y2":{"field":"h"},"color":{"condition":{"test":"datum.c >= datum.o","value":"#089981"},"value":"#F23645"}}},
{"data":{"name":"k"},"mark":{"type":"bar","size":5,"orient":"vertical"},"encoding":{"x":{"field":"i","type":"quantitative"},"y":{"field":"o","type":"quantitative"},"y2":{"field":"c"},"color":{"condition":{"test":"datum.c >= datum.o","value":"#089981"},"value":"#F23645"}}},
{"data":{"name":"lv"},"mark":{"type":"rule","color":"#2962FF","strokeWidth":2},"encoding":{"x":{"datum":-10.06},"x2":{"datum":200.06},"y":{"field":"p","type":"quantitative"}}},
{"mark":{"type":"rule","color":"#089981","strokeDash":[1,3],"strokeWidth":1.2},"encoding":{"x":{"datum":-10.06},"x2":{"datum":200.06},"y":{"datum":21457.93}}},
{"mark":{"type":"rule","color":"#e0e3eb","strokeWidth":2},"encoding":{"x":{"datum":-10.06},"x2":{"datum":211.22},"y":{"datum":17133}}},
{"data":{"name":"m21"},"mark":{"type":"line","color":"#43A047","strokeWidth":1.5},"encoding":{"x":{"field":"i","type":"quantitative"},"y":{"field":"p","type":"quantitative"}}},
{"data":{"name":"m9"},"mark":{"type":"line","color":"#FF6D00","strokeWidth":1.5},"encoding":{"x":{"field":"i","type":"quantitative"},"y":{"field":"p","type":"quantitative"}}},
{"data":{"name":"tr"},"mark":{"type":"line","color":"#131722","strokeWidth":1.3},"encoding":{"x":{"field":"i","type":"quantitative"},"y":{"field":"p","type":"quantitative"},"detail":{"field":"g"}}},
{"data":{"name":"ar"},"mark":{"type":"line","color":"#F23645","strokeWidth":2},"encoding":{"x":{"field":"i","type":"quantitative"},"y":{"field":"p","type":"quantitative"},"detail":{"field":"g"}}},
{"data":{"name":"cx"},"mark":{"type":"point","shape":"cross","filled":true,"size":216,"color":"#2962FF","opacity":1,"strokeWidth":0},"encoding":{"x":{"field":"i","type":"quantitative"},"y":{"field":"p","type":"quantitative"}}},
{"mark":{"type":"text","text":"$$$","color":"#3d6bfd","fontSize":16},"encoding":{"x":{"datum":132.9},"y":{"datum":19717}}},
{"data":{"name":"tg"},"mark":{"type":"bar","orient":"horizontal","size":21},"encoding":{"x":{"datum":200.21},"x2":{"datum":210.47},"y":{"field":"at","type":"quantitative"},"color":{"condition":[{"test":"datum.k=='b'","value":"#2962FF"},{"test":"datum.k=='k'","value":"#000000"},{"test":"datum.k=='t'","value":"#089981"},{"test":"datum.k=='g'","value":"#43A047"}],"value":"#FF6D00"}}},
{"data":{"name":"tg"},"mark":{"type":"text","align":"left","baseline":"middle","color":"#ffffff","fontSize":14.5},"encoding":{"x":{"datum":201.57},"y":{"field":"at","type":"quantitative"},"text":{"field":"t"}}},
{"mark":{"type":"text","text":"amiraoluwaseyifunmi published on TradingView.com, Jan 19, 2025 15:57 UTC-5","align":"left","baseline":"middle","color":"#131722","fontSize":14.5},"encoding":{"x":{"datum":-10.0},"y":{"datum":26395}}},
{"mark":{"type":"text","text":"US 100 Cash CFD, 1D, FX","align":"left","baseline":"middle","color":"#131722","fontSize":14.5},"encoding":{"x":{"datum":-8.88},"y":{"datum":25854}}},
{"mark":{"type":"text","text":"O","align":"left","baseline":"middle","color":"#131722","fontSize":14.5},"encoding":{"x":{"datum":12.58},"y":{"datum":25854}}},
{"mark":{"type":"text","text":"21,079.70","align":"left","baseline":"middle","color":"#089981","fontSize":14.5},"encoding":{"x":{"datum":13.94},"y":{"datum":25854}}},
{"mark":{"type":"text","text":"H","align":"left","baseline":"middle","color":"#131722","fontSize":14.5},"encoding":{"x":{"datum":23.29},"y":{"datum":25854}}},
{"mark":{"type":"text","text":"21,546.68","align":"left","baseline":"middle","color":"#089981","fontSize":14.5},"encoding":{"x":{"datum":24.5},"y":{"datum":25854}}},
{"mark":{"type":"text","text":"L","align":"left","baseline":"middle","color":"#131722","fontSize":14.5},"encoding":{"x":{"datum":33.86},"y":{"datum":25854}}},
{"mark":{"type":"text","text":"21,077.73","align":"left","baseline":"middle","color":"#089981","fontSize":14.5},"encoding":{"x":{"datum":35.1},"y":{"datum":25854}}},
{"mark":{"type":"text","text":"C","align":"left","baseline":"middle","color":"#131722","fontSize":14.5},"encoding":{"x":{"datum":44.24},"y":{"datum":25854}}},
{"mark":{"type":"text","text":"21,457.93","align":"left","baseline":"middle","color":"#089981","fontSize":14.5},"encoding":{"x":{"datum":45.48},"y":{"datum":25854}}},
{"mark":{"type":"text","text":"+378.23 (+1.79%)","align":"left","baseline":"middle","color":"#089981","fontSize":14.5},"encoding":{"x":{"datum":54.76},"y":{"datum":25854}}},
{"mark":{"type":"text","text":"MA Cross (9, 21)","align":"left","baseline":"middle","color":"#131722","fontSize":14.5},"encoding":{"x":{"datum":-8.88},"y":{"datum":25508}}},
{"mark":{"type":"text","text":"21,095.64","align":"left","baseline":"middle","color":"#FF6D00","fontSize":14.5},"encoding":{"x":{"datum":5.78},"y":{"datum":25508}}},
{"mark":{"type":"text","text":"21,252.12","align":"left","baseline":"middle","color":"#43A047","fontSize":14.5},"encoding":{"x":{"datum":15.05},"y":{"datum":25508}}},
{"mark":{"type":"text","text":"ø","align":"left","baseline":"middle","color":"#131722","fontSize":14.5},"encoding":{"x":{"datum":24.45},"y":{"datum":25508}}}
]},
{"layer":[
{"data":{"name":"hs"},"transform":[{"window":[{"op":"lag","field":"h","as":"pv"}],"sort":[{"field":"i"}]}],"mark":{"type":"bar","size":6.5,"orient":"vertical"},"encoding":{"x":{"field":"i","type":"quantitative"},"y":{"field":"h","type":"quantitative","scale":{"domain":[-305,291],"range":[687,601],"nice":false,"zero":false},"axis":{"title":null,"orient":"right","values":[-300,300],"labels":false,"grid":true,"gridColor":"#f0f3fa","domain":false,"ticks":false,"tickSize":0}},"y2":{"datum":0},"color":{"condition":[{"test":"datum.h >= 0 && datum.pv != null && datum.pv < datum.h","value":"#26A69A"},{"test":"datum.h >= 0","value":"#B2DFDB"},{"test":"datum.pv != null && datum.pv < datum.h","value":"#FFCDD2"}],"value":"#FF5252"}}},
{"mark":{"type":"rule","color":"#9598a1","strokeDash":[4,4],"strokeWidth":1},"encoding":{"x":{"datum":-10.06},"x2":{"datum":200.06},"y":{"datum":0}}},
{"data":{"name":"md"},"mark":{"type":"line","color":"#2962FF","strokeWidth":1.4},"encoding":{"x":{"field":"i","type":"quantitative"},"y":{"field":"v","type":"quantitative"}}},
{"data":{"name":"sg"},"mark":{"type":"line","color":"#FF6D00","strokeWidth":1.4},"encoding":{"x":{"field":"i","type":"quantitative"},"y":{"field":"v","type":"quantitative"}}},
{"data":{"name":"mtg"},"mark":{"type":"bar","orient":"horizontal","size":20},"encoding":{"x":{"datum":200.21},"x2":{"datum":207.82},"y":{"field":"at","type":"quantitative"},"color":{"condition":[{"test":"datum.k=='p'","value":"#FFCDD2"},{"test":"datum.k=='o'","value":"#FF6D00"}],"value":"#2962FF"}}},
{"data":{"name":"mtg"},"mark":{"type":"text","align":"left","baseline":"middle","fontSize":14.5},"encoding":{"x":{"datum":201.57},"y":{"field":"at","type":"quantitative"},"text":{"field":"t"},"color":{"condition":{"test":"datum.k=='p'","value":"#131722"},"value":"#ffffff"}}},
{"mark":{"type":"text","text":"MACD (12, 26, close)","align":"left","baseline":"middle","color":"#131722","fontSize":14.5},"encoding":{"x":{"datum":-8.88},"y":{"datum":154}}},
{"mark":{"type":"text","text":"−14.50","align":"left","baseline":"middle","color":"#f7b3bb","fontSize":14.5},"encoding":{"x":{"datum":9.45},"y":{"datum":154}}},
{"mark":{"type":"text","text":"−30.48","align":"left","baseline":"middle","color":"#2962FF","fontSize":14.5},"encoding":{"x":{"datum":16.29},"y":{"datum":154}}},
{"mark":{"type":"text","text":"−15.97","align":"left","baseline":"middle","color":"#FF6D00","fontSize":14.5},"encoding":{"x":{"datum":22.88},"y":{"datum":154}}},
{"mark":{"type":"rule","color":"#e0e3eb","strokeWidth":1.5},"encoding":{"x":{"datum":-10.06},"x2":{"datum":211.22},"y":{"datum":4453}}},
{"mark":{"type":"rule","color":"#e0e3eb","strokeWidth":2},"encoding":{"x":{"datum":-10.06},"x2":{"datum":211.22},"y":{"datum":-561}}},
{"mark":{"type":"rule","color":"#e0e3eb","strokeWidth":1.5},"encoding":{"x":{"datum":-10.06},"y":{"datum":4453},"y2":{"datum":-561}}},
{"mark":{"type":"rule","color":"#e0e3eb","strokeWidth":1.5},"encoding":{"x":{"datum":211.22},"y":{"datum":4453},"y2":{"datum":-561}}},
{"mark":{"type":"text","text":"17","align":"left","baseline":"middle","color":"#131722","fontSize":19,"fontWeight":"bold"},"encoding":{"x":{"datum":-9.95},"y":{"datum":-734}}},
{"mark":{"type":"text","text":"TradingView","align":"left","baseline":"middle","color":"#131722","fontSize":16.5},"encoding":{"x":{"datum":-6.3},"y":{"datum":-734}}}
]}
],
"resolve":{"scale":{"y":"independent"}}
}
